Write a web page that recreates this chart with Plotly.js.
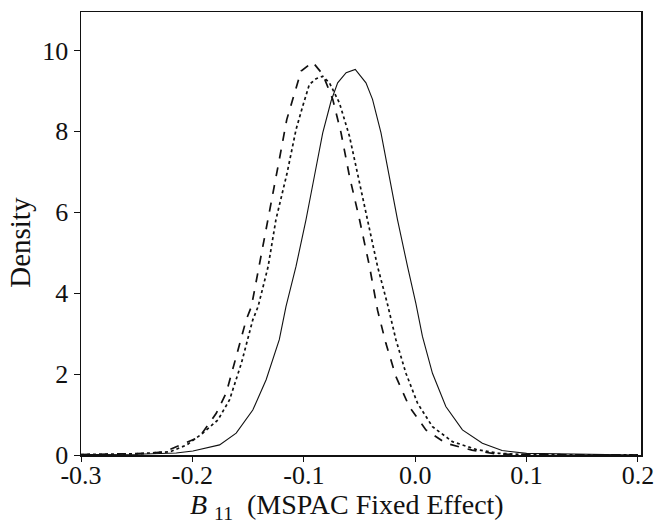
<!DOCTYPE html>
<html>
<head>
<meta charset="utf-8">
<script src="https://cdn.plot.ly/plotly-3.0.1.min.js"></script>
<style>html,body{margin:0;padding:0;background:#fff;}#chart{width:658px;height:527px;}</style>
</head>
<body>
<div id="chart"></div>
<script>
// Dashed curve
const dashX = [-0.30,-0.26,-0.24,-0.225,-0.2175,-0.1935,-0.1786,-0.1697,-0.1607,-0.1517,-0.147,-0.140,-0.1323,-0.1248,-0.122,-0.1153,-0.110,-0.1024,-0.092,-0.083,-0.074,-0.0666,-0.059,-0.050,-0.041,-0.0338,-0.0263,-0.0173,-0.0054,0.0096,0.0275,0.051,0.072,0.09,0.2];
const dashY = [0.01,0.02,0.04,0.08,0.17,0.45,1.03,1.53,2.43,3.34,3.67,4.66,5.82,6.89,7.30,8.29,8.79,9.49,9.71,9.41,8.79,7.97,6.89,5.82,4.66,3.58,2.76,1.94,1.20,0.62,0.29,0.12,0.03,0.01,0.0];
// Dotted curve
const dotX = [-0.30,-0.25,-0.22,-0.205,-0.1906,-0.177,-0.1667,-0.156,-0.1458,-0.141,-0.132,-0.125,-0.115,-0.107,-0.101,-0.095,-0.089,-0.083,-0.077,-0.068,-0.059,-0.0517,-0.0427,-0.0338,-0.0248,-0.0173,-0.0083,0.0021,0.0155,0.0334,0.0544,0.075,0.1,0.2];
const dotY = [0.01,0.03,0.08,0.25,0.54,0.87,1.36,2.27,3.34,3.67,4.66,5.82,6.97,8.04,8.62,9.16,9.30,9.36,9.20,8.70,7.88,6.97,5.82,4.66,3.72,2.85,2.02,1.28,0.70,0.33,0.14,0.04,0.01,0.0];
// Solid curve
const solidX = [-0.30,-0.25,-0.2145,-0.1995,-0.1756,-0.1607,-0.1458,-0.1338,-0.122,-0.116,-0.107,-0.098,-0.0905,-0.083,-0.0755,-0.0696,-0.062,-0.0538,-0.0442,-0.0383,-0.0307,-0.0233,-0.0159,-0.0069,0.0006,0.0065,0.0155,0.0275,0.0424,0.0603,0.078,0.1,0.16,0.2];
const solidY = [0.01,0.02,0.05,0.10,0.25,0.54,1.11,1.86,2.85,3.67,4.66,5.82,6.89,7.96,8.75,9.20,9.45,9.53,9.20,8.79,7.96,6.92,5.82,4.66,3.75,2.93,2.02,1.20,0.62,0.29,0.11,0.04,0.02,0.0];

const xTicks = [-0.3,-0.2,-0.1,0.0,0.1,0.2];
const xTickText = ['-0.3','-0.2','-0.1','0.0','0.1','0.2'];
const yTicks = [0,2,4,6,8,10];
const xTitle = '<i>B</i> <sub>11</sub>  (MSPAC Fixed Effect)';
const yTitle = 'Density';

const traces = [
  {x: dashX, y: dashY, mode:'lines', line:{color:'#111', width:1.7, dash:'dash'}},
  {x: dotX, y: dotY, mode:'lines', line:{color:'#111', width:1.7, dash:'dot'}},
  {x: solidX, y: solidY, mode:'lines', line:{color:'#111', width:1.1}}
];

const fam = '"Liberation Serif", "DejaVu Serif", serif';

const layout = {
  width:658, height:527,
  margin:{l:81, r:17, t:12, b:72},
  paper_bgcolor:'#fff', plot_bgcolor:'#fff',
  showlegend:false,
  font: {family:fam, color:'#111', size:27},
  xaxis:{
    range:[-0.3,0.2027], tickvals:xTicks, ticktext:xTickText,
    ticks:'outside', ticklen:5, tickwidth:1, tickcolor:'#111',
    ticklabelstandoff:-9,
    showline:true, linecolor:'#111', linewidth:1.5, mirror:true,
    showgrid:false, zeroline:false,
    tickfont:{family:fam, size:26, color:'#111'}
  },
  yaxis:{
    range:[0,10.95], tickvals:yTicks,
    ticks:'outside', ticklen:6, tickwidth:1, tickcolor:'#111',
    showline:true, linecolor:'#111', linewidth:1.5, mirror:true,
    showgrid:false, zeroline:false,
    tickfont:{family:fam, size:26, color:'#111'}
  },
  annotations:[
    {text:xTitle, xref:'paper', yref:'paper', x:0.475, y:0, xanchor:'center', yanchor:'middle', yshift:-51, showarrow:false, font:{family:fam, size:28, color:'#111'}},
    {text:yTitle, xref:'paper', yref:'paper', x:0, y:0.479, xanchor:'center', yanchor:'middle', xshift:-61, textangle:-90, showarrow:false, font:{family:fam, size:29, color:'#111'}}
  ]
};

Plotly.newPlot('chart', traces, layout, {displayModeBar:false, staticPlot:true});
</script>
</body>
</html>
